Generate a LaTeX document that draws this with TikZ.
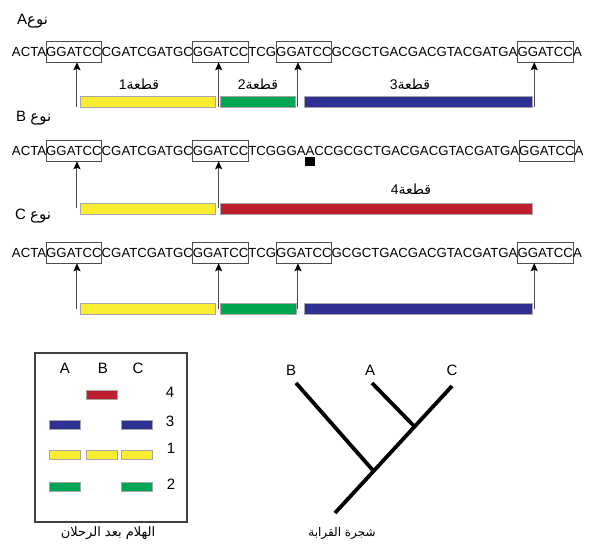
\documentclass[tikz,border=0pt]{standalone}
\usepackage{fontspec}
\setmainfont{Liberation Sans}
\newfontfamily\arabicfont[Script=Arabic]{DejaVu Sans}
\TeXXeTstate=1
\usetikzlibrary{positioning,arrows.meta,calc}

\definecolor{fragyellow}{RGB}{249,236,49}
\definecolor{fraggreen}{RGB}{0,166,81}
\definecolor{fragblue}{RGB}{46,49,146}
\definecolor{fragred}{RGB}{190,30,45}

\newcommand{\ar}[1]{{\arabicfont\beginR #1\endR}}

\begin{document}
\begin{tikzpicture}[
    x=1pt, y=-1pt,
    seq/.style={
        inner sep=0pt,
        outer sep=0pt,
        text height=9.5pt,
        text depth=0pt,
        font=\fontsize{13.2}{15}\selectfont
    },
    site/.style={seq, draw=black!70, line width=0.8pt, inner ysep=5.5pt},
    bar/.style={draw=black!35, line width=0.5pt, inner sep=0pt, outer sep=0pt,
        minimum height=11pt, anchor=west},
    band/.style={draw=black!35, line width=0.5pt, inner sep=0pt,
        minimum width=31pt, minimum height=9pt},
    cut/.style={-{Stealth[length=8pt,width=7pt,inset=1.5pt,black]}, draw=black!70, line width=1pt},
    lbl/.style={font=\fontsize{15}{17}\selectfont, inner sep=0pt},
    frag/.style={font=\fontsize{14}{16}\selectfont, inner sep=0pt, anchor=base},
    capt/.style={inner sep=0pt},
    branch/.style={line width=3.8pt}
]
\useasboundingbox (0,0) rectangle (595,548);

% ============================================================
% NOE A
% ============================================================
\node[lbl, anchor=base west] (tA) at (17,25) {A\ar{نوع}};

\node[seq, anchor=west] (a0) at (12,52) {ACTA};
\node[site, right=0pt of a0] (a1) {GGATCC};
\node[seq,  right=0pt of a1] (a2) {CGATCGATGC};
\node[site, right=0pt of a2] (a3) {GGATCC};
\node[seq,  right=0pt of a3] (a4) {TCG};
\node[site, right=0pt of a4] (a5) {GGATCC};
\node[seq,  right=0pt of a5] (a6) {GCGCTGACGACGTACGATGA};
\node[site, right=0pt of a6] (a7) {GGATCC};
\node[seq,  right=0pt of a7] (a8) {A};

\node[bar, fill=fragyellow, minimum width=135pt] (fa1) at ( 80,101.5) {};
\node[bar, fill=fraggreen,  minimum width=75pt]  (fa2) at (220,101.5) {};
\node[bar, fill=fragblue,   minimum width=228pt] (fa3) at (304,101.5) {};

\node[frag] (la1) at (139,90) {1\ar{قطعة}};
\node[frag] (la2) at (258,90) {2\ar{قطعة}};
\node[frag] (la3) at (410,90) {3\ar{قطعة}};

\draw[cut] ([xshift=3pt]a1.south |- fa1.south)   -- ([xshift=3pt]a1.south);
\draw[cut] ([xshift=-2pt]a3.south |- fa1.south)  -- ([xshift=-2pt]a3.south);
\draw[cut] ([xshift=-6pt]a5.south |- fa1.south)  -- ([xshift=-6pt]a5.south);
\draw[cut] ([xshift=-11pt]a7.south |- fa1.south) -- ([xshift=-11pt]a7.south);

% ============================================================
% NOE B
% ============================================================
\node[lbl, anchor=base west] (tB) at (16,122) {B \ar{نوع}};

\node[seq, anchor=west] (b0) at (12,151) {ACTA};
\node[site, right=0pt of b0] (b1) {GGATCC};
\node[seq,  right=0pt of b1] (b2) {CGATCGATGC};
\node[site, right=0pt of b2] (b3) {GGATCC};
\node[seq,  right=0pt of b3] (b4) {TCGGGA};
\node[seq,  right=0pt of b4] (bm) {A};
\node[seq,  right=0pt of bm] (b5) {CCGCGCTGACGACGTACGATGA};
\node[site, right=0pt of b5] (b6) {GGATCC};
\node[seq,  right=0pt of b6] (b7) {A};

% mutacja
\node[fill=black, inner sep=0pt, minimum width=10pt, minimum height=9pt,
    below=1.5pt of bm] (snp) {};

\node[bar, fill=fragyellow, minimum width=135pt] (fb1) at ( 80,208.5) {};
\node[bar, fill=fragred,    minimum width=312pt] (fb2) at (220,208.5) {};

\node[frag] (lb2) at (411,195) {4\ar{قطعة}};

\draw[cut] ([xshift=3pt]b1.south |- fb1)  -- ([xshift=3pt]b1.south);
\draw[cut] ([xshift=-2pt]b3.south |- fb1) -- ([xshift=-2pt]b3.south);

% ============================================================
% NOE C
% ============================================================
\node[lbl, anchor=base west] (tC) at (15,220) {C \ar{نوع}};

\node[seq, anchor=west] (c0) at (12,253) {ACTA};
\node[site, right=0pt of c0] (c1) {GGATCC};
\node[seq,  right=0pt of c1] (c2) {CGATCGATGC};
\node[site, right=0pt of c2] (c3) {GGATCC};
\node[seq,  right=0pt of c3] (c4) {TCG};
\node[site, right=0pt of c4] (c5) {GGATCC};
\node[seq,  right=0pt of c5] (c6) {GCGCTGACGACGTACGATGA};
\node[site, right=0pt of c6] (c7) {GGATCC};
\node[seq,  right=0pt of c7] (c8) {A};

\node[bar, fill=fragyellow, minimum width=135pt] (fc1) at ( 80,309) {};
\node[bar, fill=fraggreen,  minimum width=76pt]  (fc2) at (220,309) {};
\node[bar, fill=fragblue,   minimum width=228pt] (fc3) at (304,309) {};

\draw[cut] ([xshift=3pt]c1.south |- fc1)   -- ([xshift=3pt]c1.south);
\draw[cut] ([xshift=-2pt]c3.south |- fc1)  -- ([xshift=-2pt]c3.south);
\draw[cut] ([xshift=-6pt]c5.south |- fc1)  -- ([xshift=-6pt]c5.south);
\draw[cut] ([xshift=-11pt]c7.south |- fc1) -- ([xshift=-11pt]c7.south);

% ============================================================
% ZEL
% ============================================================
\node[draw=black!75, line width=1.1pt, minimum width=152pt, minimum height=169pt,
    inner sep=0pt] (gel) at (111,437.5) {};

\node[lbl] (gA) at ( 65,368) {A};
\node[lbl] (gB) at (103,368) {B};
\node[lbl] (gC) at (138,368) {C};

\node[band, fill=fragred]    (g4b) at (101.5,395) {};
\node[band, fill=fragblue]   (g3a) at ( 65,425) {};
\node[band, fill=fragblue]   (g3c) at (137,425) {};
\node[band, fill=fragyellow] (g1a) at ( 65,454.5) {};
\node[band, fill=fragyellow] (g1b) at (101.5,454.5) {};
\node[band, fill=fragyellow] (g1c) at (137,454.5) {};
\node[band, fill=fraggreen]  (g2a) at ( 65,487) {};
\node[band, fill=fraggreen]  (g2c) at (137,487) {};

\node[lbl] (n4) at (170,392) {4};
\node[lbl] (n3) at (170,421) {3};
\node[lbl] (n1) at (171,448) {1};
\node[lbl] (n2) at (171,484) {2};

\node[capt, font=\fontsize{13}{15}\selectfont] (gcap) at (108,533) {\ar{الهلام بعد الرحلان}};

% ============================================================
% DRZEWO
% ============================================================
\coordinate (root)  at (335,513);
\coordinate (leafB) at (296,383);
\coordinate (leafA) at (372,383);
\coordinate (leafC) at (452,386);
\coordinate (jB)  at ($(root)!0.33!(leafC)$);
\coordinate (jA)  at ($(root)!0.68!(leafC)$);

\draw[branch] (root) -- (leafC);
\draw[branch] (leafB) -- (jB);
\draw[branch] (leafA) -- (jA);

\node[lbl] (tlB) at (291,370) {B};
\node[lbl] (tlA) at (370,370) {A};
\node[lbl] (tlC) at (452,370) {C};

\node[capt, font=\fontsize{12}{14}\selectfont] (tcap) at (342,533) {\ar{شجرة القرابة}};

\end{tikzpicture}
\end{document}
